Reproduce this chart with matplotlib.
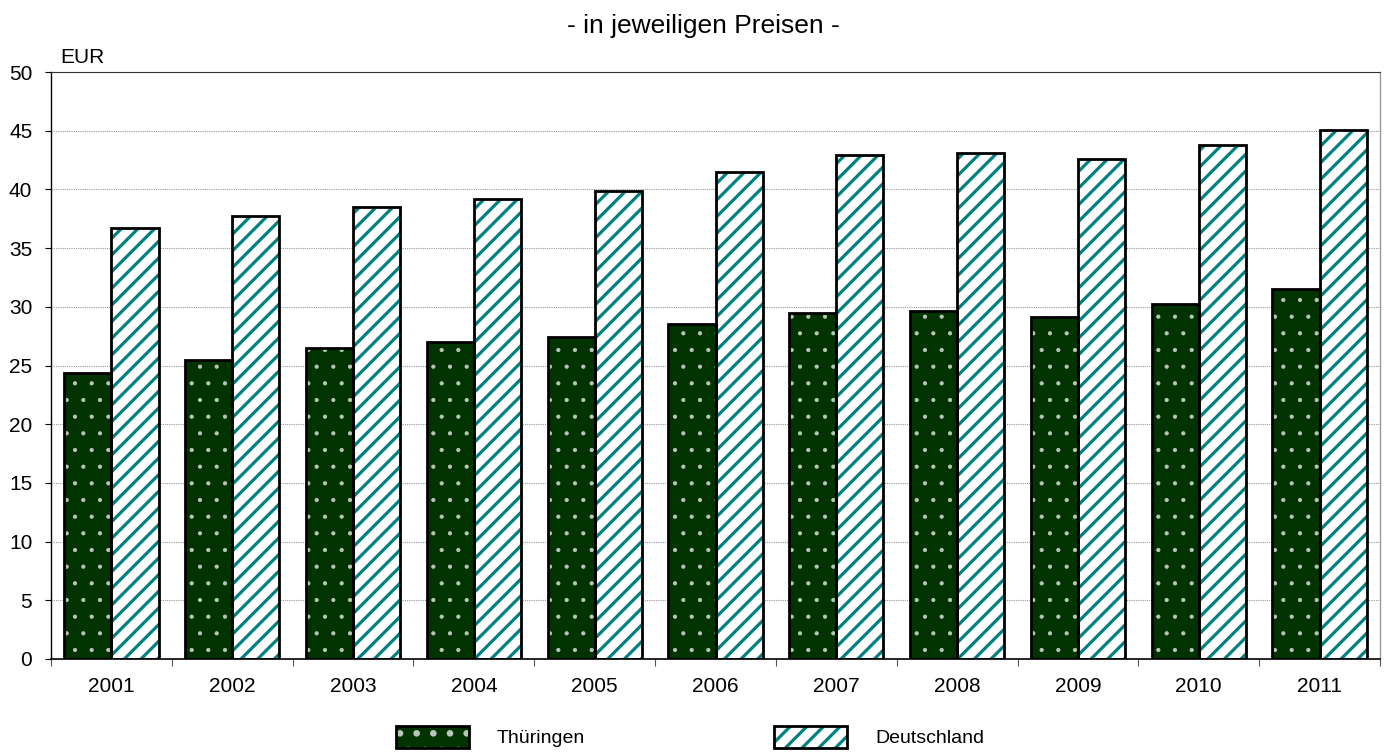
import matplotlib
matplotlib.use('Agg')
import matplotlib.pyplot as plt
import numpy as np

plt.rcParams['font.family'] = ['Liberation Sans', 'DejaVu Sans']

years = ['2001', '2002', '2003', '2004', '2005', '2006',
         '2007', '2008', '2009', '2010', '2011']
thueringen = [24.4, 25.5, 26.5, 27.0, 27.4, 28.5, 29.5, 29.6, 29.1, 30.2, 31.5]
deutschland = [36.7, 37.7, 38.5, 39.2, 39.9, 41.5, 42.9, 43.1, 42.6, 43.8, 45.1]
y_ticks = [0, 5, 10, 15, 20, 25, 30, 35, 40, 45, 50]

GREEN = '#003300'
TEAL = '#008080'

fig = plt.figure(figsize=(13.86, 7.55), dpi=100)
ax = fig.add_axes([51 / 1386, 1 - 659 / 755, (1380 - 51) / 1386, (659 - 72) / 755])

x = np.arange(len(years))
w = 0.39


def hatch_bars(xpos, vals, face, hcolor, hatch, hlw):
    plt.rcParams['hatch.linewidth'] = hlw
    fill = ax.bar(xpos, vals, w, color=face, edgecolor=hcolor, hatch=hatch,
                  linewidth=0, zorder=2)
    for b in fill:
        if hasattr(b, 'set_hatch_linewidth'):
            b.set_hatch_linewidth(hlw)
    edge = ax.bar(xpos, vals, w, fill=False, edgecolor='black',
                  linewidth=2.0, zorder=3)
    return fill, edge


th = hatch_bars(x - w / 2, thueringen, GREEN, '#b8c8b8', '.', 0.6)
de = hatch_bars(x + w / 2, deutschland, 'white', TEAL, '//', 2.3)

ax.set_xlim(-0.5, len(years) - 0.5)
ax.set_ylim(0, 50)
ax.set_yticks(y_ticks)
ax.set_xticks(x)
ax.set_xticklabels(years)
ax.set_xticks(np.arange(-0.5, len(years), 1), minor=True)
ax.tick_params(axis='x', which='major', length=0, pad=13, labelsize=15)
ax.tick_params(axis='x', which='minor', length=5, width=0.8, color='#555555')
ax.tick_params(axis='y', length=4.5, width=0.8, pad=9, labelsize=15)

ax.yaxis.grid(True, linestyle=(0, (1, 1)), color='#999999', linewidth=0.8, zorder=0)
ax.set_axisbelow(True)

ax.spines['left'].set_linewidth(1.0)
ax.spines['bottom'].set_linewidth(1.2)
ax.spines['right'].set_color('#999999')
ax.spines['right'].set_linewidth(1.0)
ax.spines['top'].set_color('#333333')
ax.spines['top'].set_linestyle((0, (2, 1)))
ax.spines['top'].set_linewidth(0.8)

fig.text(60 / 1386, 1 - 63 / 755, 'EUR', fontsize=15, va='baseline', ha='left')
fig.text(703 / 1386, 1 - 32.5 / 755, '- in jeweiligen Preisen -', fontsize=19,
         va='baseline', ha='center')

ax.legend([th, de], ['Thüringen', 'Deutschland'], ncol=2, frameon=False,
          loc='center', bbox_to_anchor=(690 / 1386, 1 - 737 / 755),
          bbox_transform=fig.transFigure, fontsize=14,
          handlelength=3.76, handleheight=1.4, handletextpad=1.45,
          columnspacing=9.7)

fig.savefig('out.png', dpi=100)
